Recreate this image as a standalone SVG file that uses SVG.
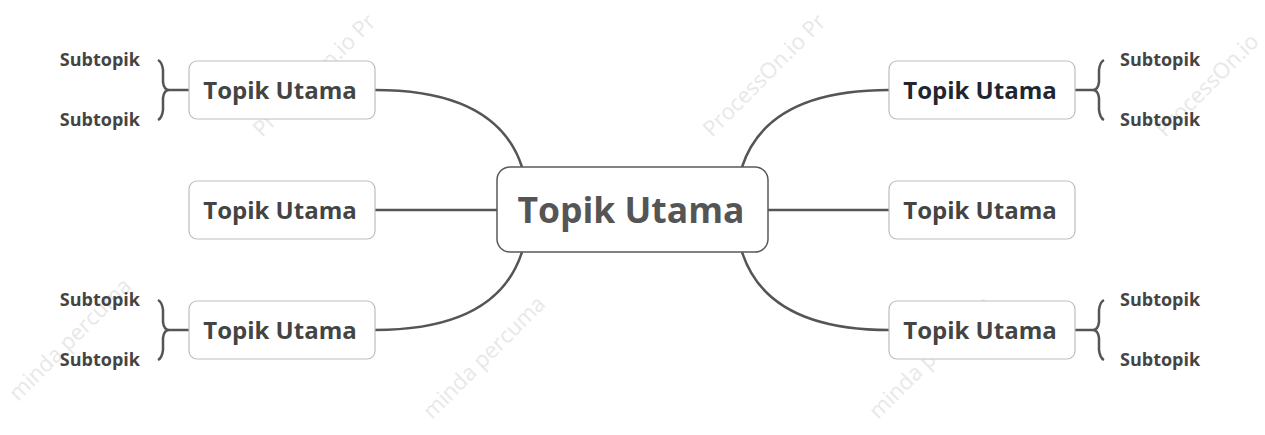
<svg xmlns="http://www.w3.org/2000/svg" width="1265" height="435" viewBox="0 0 1265 435">
<style>
.wm{font-family:"Open Sans",sans-serif;font-size:22px;fill:#e8e8e8;}
.root rect{fill:#fff;stroke:#5a5a5a;stroke-width:1.5;}
.root text{font-family:"Open Sans",sans-serif;font-weight:bold;font-size:35.5px;fill:#555;text-anchor:middle;}
.main rect{fill:#fff;stroke:#bdbdbd;stroke-width:1.2;}
.main text{font-family:"Open Sans",sans-serif;font-weight:bold;font-size:24px;fill:#444;text-anchor:middle;}
.sub text{font-family:"Open Sans",sans-serif;font-weight:bold;font-size:18px;fill:#444;}
.c{fill:none;stroke:#555;stroke-width:2.5;}
</style>
<rect width="1265" height="435" fill="#fff"/>
<g id="watermarks">
<text class="wm" transform="translate(262,138) rotate(-45)">ProcessOn.io Pr</text>
<text class="wm" transform="translate(712,138) rotate(-45)">ProcessOn.io Pr</text>
<text class="wm" transform="translate(1165,138) rotate(-45)">ProcessOn.io</text>
<text class="wm" transform="translate(18,402) rotate(-45)">minda percuma</text>
<text class="wm" transform="translate(432,420) rotate(-45)">minda percuma</text>
<text class="wm" transform="translate(878,420) rotate(-45)">minda percuma</text>
</g>
<g id="connectors">
<path class="c" d="M375,90 C455,90 505,115 522,167"/>
<path class="c" d="M375,210 L497,210"/>
<path class="c" d="M375,330 C455,330 505,305 522,252"/>
<path class="c" d="M889,90 C809,90 759,115 742,167"/>
<path class="c" d="M768,210 L889,210"/>
<path class="c" d="M889,330 C809,330 759,305 742,252"/>
<path class="c" d="M189,90 L169,90 Q164,90 163,82 L163,70 Q162,62 158,60 M169,90 Q164,90 163,98 L163,110 Q162,118 158,120"/>
<path class="c" d="M189,330 L169,330 Q164,330 163,322 L163,310 Q162,302 158,300 M169,330 Q164,330 163,338 L163,350 Q162,358 158,360"/>
<path class="c" d="M1075,90 L1093,90 Q1098,90 1099,82 L1099,70 Q1100,62 1104,60 M1093,90 Q1098,90 1099,98 L1099,110 Q1100,118 1104,120"/>
<path class="c" d="M1075,330 L1093,330 Q1098,330 1099,322 L1099,310 Q1100,302 1104,300 M1093,330 Q1098,330 1099,338 L1099,350 Q1100,358 1104,360"/>
</g>
<g id="root" class="root"><rect x="497" y="167" width="271" height="85" rx="13"/><text x="631" y="223">Topik Utama</text></g>
<g id="n1" class="main"><rect x="189" y="61" width="186" height="58" rx="8"/><text x="280" y="98.5">Topik Utama</text></g>
<g id="n2" class="main"><rect x="189" y="181" width="186" height="58" rx="8"/><text x="280" y="218.5">Topik Utama</text></g>
<g id="n3" class="main"><rect x="189" y="301" width="186" height="58" rx="8"/><text x="280" y="338.5">Topik Utama</text></g>
<g id="n4" class="main"><rect x="889" y="61" width="186" height="58" rx="8"/><text x="980" y="98.5" style="fill:#1f2630">Topik Utama</text></g>
<g id="n5" class="main"><rect x="889" y="181" width="186" height="58" rx="8"/><text x="980" y="218.5">Topik Utama</text></g>
<g id="n6" class="main"><rect x="889" y="301" width="186" height="58" rx="8"/><text x="980" y="338.5">Topik Utama</text></g>
<g id="s1" class="sub"><text x="140" y="66" text-anchor="end">Subtopik</text></g>
<g id="s2" class="sub"><text x="140" y="126" text-anchor="end">Subtopik</text></g>
<g id="s3" class="sub"><text x="140" y="306" text-anchor="end">Subtopik</text></g>
<g id="s4" class="sub"><text x="140" y="366" text-anchor="end">Subtopik</text></g>
<g id="s5" class="sub"><text x="1120" y="66">Subtopik</text></g>
<g id="s6" class="sub"><text x="1120" y="126">Subtopik</text></g>
<g id="s7" class="sub"><text x="1120" y="306">Subtopik</text></g>
<g id="s8" class="sub"><text x="1120" y="366">Subtopik</text></g>
</svg>
